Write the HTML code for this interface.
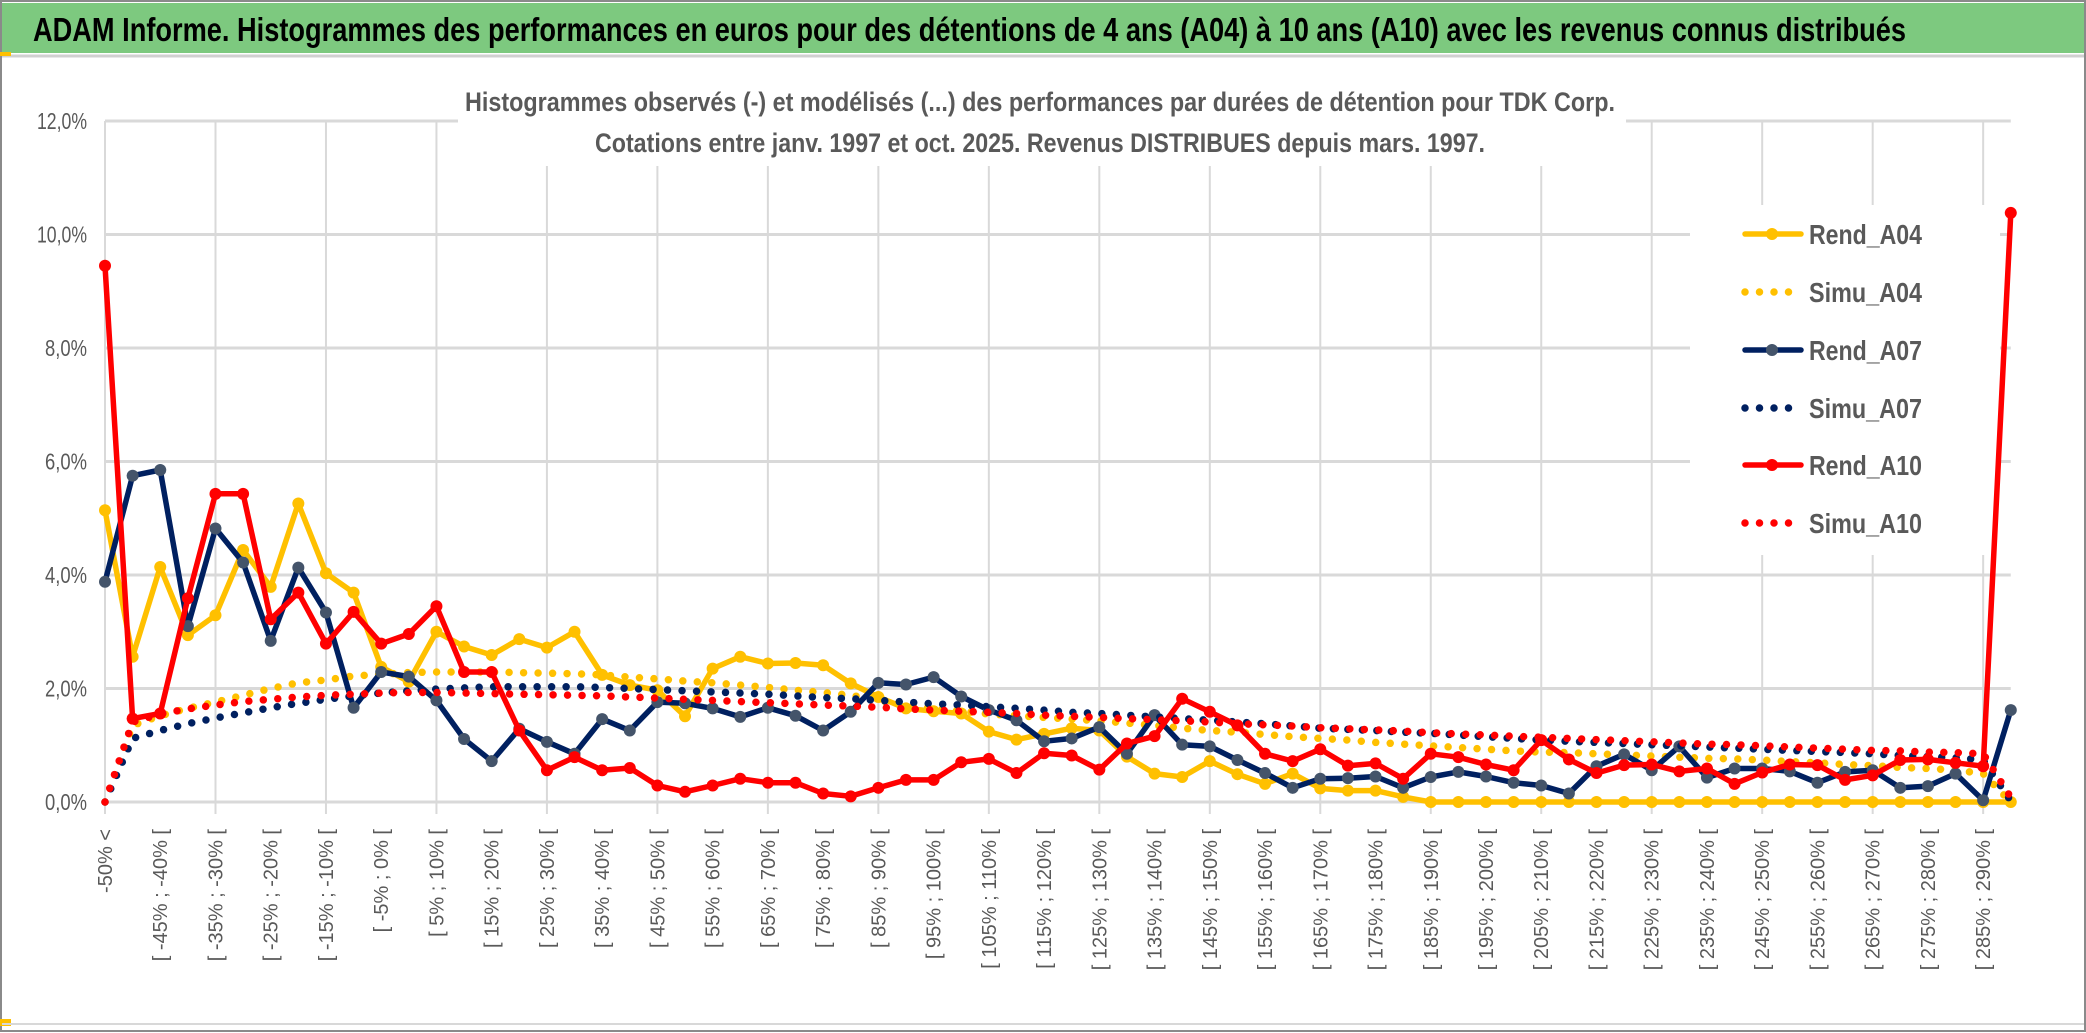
<!DOCTYPE html>
<html><head><meta charset="utf-8"><style>
html,body{margin:0;padding:0;background:#fff;}
svg{display:block;}
</style></head><body>
<svg id="chart" width="2086" height="1033" viewBox="0 0 2086 1033" xmlns="http://www.w3.org/2000/svg">
<rect x="0" y="0" width="2086" height="1033" fill="#fff"/>
<rect x="1" y="1" width="2084" height="1030" fill="none" stroke="#8a8a8a" stroke-width="2"/>
<rect x="2" y="3" width="2082" height="50" fill="#7dc97f"/>
<line x1="2" y1="56" x2="2084" y2="56" stroke="#d0d0d0" stroke-width="3"/>
<rect x="0" y="52" width="11" height="4" fill="#ffc000"/>
<rect x="0" y="1019" width="11" height="7" fill="#ffc000"/>
<text x="33" y="41" font-family="'Liberation Sans Narrow','Liberation Sans',sans-serif" font-weight="bold" font-size="33" fill="#000" textLength="1873" lengthAdjust="spacingAndGlyphs">ADAM Informe. Histogrammes des performances en euros pour des détentions de 4 ans (A04) à 10 ans (A10) avec les revenus connus distribués</text>
<line x1="2" y1="1024" x2="2084" y2="1024" stroke="#d8d8d8" stroke-width="2"/>
<g id="grid"></g>
<g id="yaxis"></g>
<g id="xaxis"></g>
<rect x="458" y="80" width="1168" height="86" fill="#fff"/>
<text x="1040" y="111" text-anchor="middle" font-family="'Liberation Sans Narrow','Liberation Sans',sans-serif" font-weight="bold" font-size="27" fill="#595959" textLength="1150" lengthAdjust="spacingAndGlyphs">Histogrammes observés (-) et modélisés (...) des performances par durées de détention pour TDK Corp.</text>
<text x="1040" y="152" text-anchor="middle" font-family="'Liberation Sans Narrow','Liberation Sans',sans-serif" font-weight="bold" font-size="27" fill="#595959" textLength="890" lengthAdjust="spacingAndGlyphs">Cotations entre janv. 1997 et oct. 2025. Revenus DISTRIBUES depuis mars. 1997.</text>
<rect x="1690" y="205" width="310" height="350" fill="#fff"/>
<g id="series"></g>
<g id="legend"></g>
</svg>
<script>
const rendA04 = [5.14,2.56,4.14,2.94,3.29,4.44,3.79,5.26,4.03,3.69,2.38,2.12,3.0,2.74,2.59,2.87,2.72,3.0,
2.24,2.06,1.97,1.51,2.35,2.56,2.44,2.45,2.41,2.09,1.85,1.65,1.6,1.56,1.24,1.1,1.2,1.3,
1.26,0.8,0.5,0.44,0.72,0.49,0.32,0.5,0.24,0.2,0.2,0.09,0,
0,0,0,0,0,0,0,0,0,0,0,0,0,0,0,0,0,0,0,0,0];
const simuA04 = [0,1.35,1.52,1.65,1.76,1.88,2.0,2.1,2.15,2.22,
2.25,2.28,2.29,2.29,2.29,2.28,2.27,2.26,2.24,2.2,
2.17,2.13,2.1,2.06,2.02,1.97,1.93,1.88,1.8,1.7,
1.65,1.6,1.55,1.52,1.49,1.46,1.43,1.39,1.35,1.3,
1.26,1.23,1.19,1.15,1.12,1.09,1.05,1.02,0.99,0.96,
0.93,0.9,0.88,0.87,0.85,0.83,0.81,0.79,0.77,0.76,
0.74,0.71,0.69,0.66,0.64,0.61,0.59,0.56,0.5,0.0];
const rendA07 = [3.88,5.75,5.85,3.1,4.82,4.22,2.84,4.13,3.34,1.66,2.29,2.21,1.79,1.11,0.72,1.29,1.06,0.85,
1.46,1.26,1.76,1.74,1.65,1.5,1.66,1.52,1.26,1.59,2.1,2.07,2.2,1.86,1.62,1.44,1.07,1.12,
1.32,0.85,1.53,1.01,0.98,0.74,0.51,0.25,0.41,0.42,0.45,0.25,0.44,0.53,0.45,0.34,0.29,0.15,
0.63,0.84,0.56,0.98,0.43,0.59,0.59,0.54,0.34,0.53,0.56,0.25,0.28,0.5,0.03,1.62];
const simuA07 = [0,1.12,1.26,1.38,1.48,1.57,1.66,1.74,1.81,1.87,
1.92,1.96,1.99,2.01,2.03,2.03,2.03,2.03,2.02,2.0,
1.98,1.96,1.94,1.92,1.9,1.87,1.84,1.82,1.79,1.76,
1.73,1.71,1.68,1.65,1.62,1.58,1.56,1.53,1.5,1.47,
1.44,1.41,1.38,1.34,1.3,1.28,1.26,1.23,1.21,1.18,
1.15,1.12,1.09,1.07,1.05,1.03,1.01,0.99,0.97,0.95,
0.93,0.91,0.89,0.87,0.85,0.82,0.8,0.78,0.74,0.02];
const rendA10 = [9.45,1.47,1.56,3.59,5.43,5.43,3.22,3.69,2.79,3.35,2.79,2.96,3.45,2.29,2.29,1.26,0.56,0.79,
0.56,0.6,0.29,0.18,0.29,0.41,0.34,0.34,0.15,0.1,0.25,0.39,0.39,0.7,0.76,0.51,0.86,0.82,
0.57,1.03,1.16,1.82,1.59,1.35,0.85,0.72,0.93,0.64,0.68,0.41,0.85,0.79,0.66,0.56,1.09,0.75,
0.51,0.65,0.66,0.54,0.59,0.32,0.52,0.66,0.65,0.39,0.47,0.74,0.75,0.69,0.63,10.38];
const simuA10 = [0,1.41,1.55,1.64,1.71,1.77,1.81,1.85,1.88,1.9,
1.92,1.93,1.93,1.92,1.91,1.9,1.89,1.88,1.87,1.85,
1.83,1.81,1.79,1.77,1.75,1.73,1.71,1.69,1.67,1.64,
1.62,1.6,1.58,1.56,1.53,1.51,1.49,1.47,1.45,1.43,
1.41,1.38,1.36,1.34,1.31,1.29,1.27,1.25,1.22,1.2,
1.18,1.16,1.14,1.12,1.1,1.08,1.06,1.04,1.02,1.01,
0.99,0.97,0.95,0.93,0.91,0.9,0.88,0.87,0.85,0.08];
const yTicks = [0,2,4,6,8,10,12];
const yTickLabels = ["0,0%","2,0%","4,0%","6,0%","8,0%","10,0%","12,0%"];
const seriesNames = ["Rend_A04","Simu_A04","Rend_A07","Simu_A07","Rend_A10","Simu_A10"];
const categories = ["-50% <"];
for (let k = 0; k < 69; k++) { const a = -50 + 5*k; categories.push("[ " + a + "% ; " + (a+5) + "% ["); }

const NS = "http://www.w3.org/2000/svg";
const X0 = 105, DX = 27.62, Y0 = 802, YS = 56.75;
const xs = i => X0 + i*DX;
const ys = v => Y0 - v*YS;
function mk(tag, attrs, parent){ const e=document.createElementNS(NS,tag); for(const k in attrs) e.setAttribute(k,attrs[k]); parent.appendChild(e); return e; }

const grid = document.getElementById('grid');
yTicks.forEach((t,i)=>{
  const l = mk('line',{x1:X0,x2:xs(categories.length-1),y1:ys(t),y2:ys(t),stroke:'#d9d9d9','stroke-width':3},grid);
  
  
});
for(let i=0;i<categories.length;i+=4){
  const l = mk('line',{x1:xs(i),x2:xs(i),y1:ys(12),y2:ys(0)+12,stroke:'#d9d9d9','stroke-width':2},grid);
  
  
}
const yaxis = document.getElementById('yaxis');
yTicks.forEach((t,i)=>{
  const tx = mk('text',{x:87,y:ys(t)+8,'text-anchor':'end','font-family':"'Liberation Sans Narrow','Liberation Sans',sans-serif",'font-size':23,fill:'#595959',textLength:yTickLabels[i].length>4?50:42,lengthAdjust:'spacingAndGlyphs'},yaxis);
  tx.textContent = yTickLabels[i];
  
  
});
const xaxis = document.getElementById('xaxis');
categories.forEach((c,i)=>{
  if(i%2!==0) return;
  const x = xs(i)+7, y = 829;
  const tx = mk('text',{x:x,y:y,transform:`rotate(-90 ${x} ${y})`,'text-anchor':'end','font-family':"'Liberation Sans',sans-serif",'font-size':20,fill:'#595959'},xaxis);
  tx.textContent = c;
  
  
});

const seriesG = document.getElementById('series');
const defs = [
  {name:'rend-a04', data:rendA04, color:'#ffc000', solid:true, marker:'#ffc000'},
  {name:'simu-a04', data:simuA04, color:'#ffc000', solid:false},
  {name:'rend-a07', data:rendA07, color:'#002060', solid:true, marker:'#44546a'},
  {name:'simu-a07', data:simuA07, color:'#002060', solid:false},
  {name:'rend-a10', data:rendA10, color:'#ff0000', solid:true, marker:'#ff0000'},
  {name:'simu-a10', data:simuA10, color:'#ff0000', solid:false}
];
defs.forEach(s=>{
  const g = mk('g',{},seriesG);
  
  
  const pts = s.data.map((v,i)=>xs(i).toFixed(1)+','+ys(v).toFixed(1)).join(' ');
  const pl = mk('polyline',{points:pts,fill:'none',stroke:s.color,'stroke-width':s.solid?5.5:7.5,'stroke-linejoin':'round','stroke-linecap':'round','stroke-dasharray':s.solid?'none':'0 14.5'},g);
  
  
  if(s.solid){
    s.data.forEach((v,i)=>{
      const c = mk('circle',{cx:xs(i),cy:ys(v),r:6,fill:s.marker},g);
      
      
    });
  }
});

const legend = document.getElementById('legend');
const legYs = [234,292,350,408,465,523];
defs.forEach((s,k)=>{
  const g = mk('g',{},legend);
  
  
  const y = legYs[k];
  const l = mk('line',{x1:1745,x2:1801,y1:y,y2:y,stroke:s.color,'stroke-width':s.solid?5.5:7.5,'stroke-linecap':'round','stroke-dasharray':s.solid?'none':'0 14.5'},g);
  
  
  if(s.solid){
    const c = mk('circle',{cx:1772,cy:y,r:6,fill:s.marker},g);
    
    
  }
  const t = mk('text',{x:1809,y:y+10,'font-family':"'Liberation Sans Narrow','Liberation Sans',sans-serif",'font-weight':'bold','font-size':28,fill:'#595959',textLength:113,lengthAdjust:'spacingAndGlyphs'},g);
  t.textContent = seriesNames[k];
  
  
});
</script>
</body></html>
